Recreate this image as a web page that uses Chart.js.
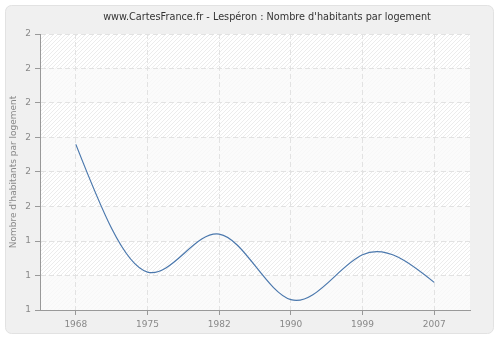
<!DOCTYPE html>
<html>
<head>
<meta charset="utf-8">
<script src="https://cdn.jsdelivr.net/npm/chart.js@4/dist/chart.umd.min.js"></script>
<style>
  html, body { margin: 0; padding: 0; background: #ffffff; }
  #wrap { width: 500px; height: 340px; }
</style>
</head>
<body>
<div id="wrap"><canvas id="canvas" width="500" height="340"></canvas></div>
<script>
'use strict';

// data
var years = ['1968', '1975', '1982', '1990', '1999', '2007'];
var habParLogement = [1.68, 1.31, 1.42, 1.23, 1.36, 1.28];
var yMin = 1.2;
var yMax = 2.0;
var yStep = 0.1;

var titleText = "www.CartesFrance.fr - Lespéron : Nombre d'habitants par logement";
var yTitle = "Nombre d'habitants par logement";

function makeHatch() {
    var c = document.createElement('canvas');
    c.width = 4; c.height = 4;
    var g = c.getContext('2d');
    g.fillStyle = '#ffffff';
    g.fillRect(0, 0, 4, 4);
    g.strokeStyle = '#ececec';
    g.lineWidth = 1;
    g.beginPath();
    g.moveTo(-1, 5); g.lineTo(5, -1);
    g.moveTo(-1, 1); g.lineTo(1, -1);
    g.moveTo(3, 5); g.lineTo(5, 3);
    g.stroke();
    return c;
}

// background: outer rounded box, hatched plot area, alternating bands
var backgroundPlugin = {
    id: 'background',
    beforeDraw: function (chart) {
        var ctx = chart.ctx;
        var a = chart.chartArea;
        ctx.save();
        ctx.fillStyle = '#ffffff';
        ctx.fillRect(0, 0, chart.width, chart.height);

        ctx.beginPath();
        ctx.roundRect(5.5, 5.5, 488, 328, 6);
        ctx.fillStyle = '#f0f0f0';
        ctx.fill();
        ctx.strokeStyle = '#e2e2e2';
        ctx.lineWidth = 1;
        ctx.stroke();

        ctx.fillStyle = ctx.createPattern(makeHatch(), 'repeat');
        ctx.fillRect(a.left, a.top, a.right - a.left, a.bottom - a.top);

        var y = chart.scales.y;
        ctx.fillStyle = 'rgba(250,250,250,0.8)';
        var ticks = y.ticks;
        for (var i = 0; i < ticks.length - 1; i++) {
            if ((ticks.length - 2 - i) % 2 === 1) {
                var y1 = y.getPixelForValue(ticks[i].value);
                var y2 = y.getPixelForValue(ticks[i + 1].value);
                ctx.fillRect(a.left, Math.min(y1, y2), a.right - a.left, Math.abs(y2 - y1));
            }
        }
        ctx.restore();
    },
    afterDraw: function (chart) {
        var ctx = chart.ctx;
        ctx.save();
        ctx.font = '9.7px "DejaVu Sans"';
        ctx.fillStyle = '#333333';
        ctx.textAlign = 'center';
        ctx.textBaseline = 'middle';
        ctx.fillText(titleText, 267, 17);
        ctx.restore();
    }
};

// smooth the line as a natural cubic spline through the points
var splinePlugin = {
    id: 'spline',
    afterDatasetsUpdate: function (chart) {
        chart.data.datasets.forEach(function (ds, di) {
            var meta = chart.getDatasetMeta(di);
            var pts = meta.data;
            var n = pts.length;
            if (n < 3) return;
            var h = pts[1].x - pts[0].x;
            var M = new Array(n).fill(0);
            var c = new Array(n).fill(0), d = new Array(n).fill(0);
            for (var i = 1; i < n - 1; i++) {
                var rhs = 6 * (pts[i + 1].y - 2 * pts[i].y + pts[i - 1].y) / (h * h);
                var denom = 4 - (i > 1 ? c[i - 1] : 0);
                c[i] = 1 / denom;
                d[i] = (rhs - (i > 1 ? d[i - 1] : 0)) / denom;
            }
            for (var k = n - 2; k >= 1; k--) {
                M[k] = d[k] - c[k] * M[k + 1];
            }
            var slopes = [];
            for (var j = 0; j < n - 1; j++) {
                slopes[j] = (pts[j + 1].y - pts[j].y) / h - h * (2 * M[j] + M[j + 1]) / 6;
            }
            slopes[n - 1] = (pts[n - 1].y - pts[n - 2].y) / h + h * (M[n - 2] + 2 * M[n - 1]) / 6;
            for (var p = 0; p < n; p++) {
                pts[p].cp1x = pts[p].x - h / 3;
                pts[p].cp1y = pts[p].y - slopes[p] * h / 3;
                pts[p].cp2x = pts[p].x + h / 3;
                pts[p].cp2y = pts[p].y + slopes[p] * h / 3;
            }
            meta.dataset._pointsUpdated = true;
            meta.dataset._path = undefined;
        });
    }
};

var myChart = null;
function createChart() {
    if (myChart != null) myChart.destroy();
    var ctx = document.getElementById('canvas').getContext('2d');
    myChart = new Chart(ctx, {
        type: 'line',
        data: {
            labels: years,
            datasets: [{
                data: habParLogement,
                borderColor: '#4b78ad',
                borderWidth: 1.2,
                pointRadius: 0,
                fill: false,
                tension: 0.4
            }]
        },
        options: {
            responsive: false,
            animation: false,
            devicePixelRatio: 1,
            layout: { padding: { left: 5, right: 30, top: 34, bottom: 0 } },
            plugins: {
                legend: { display: false },
                tooltip: { enabled: false },
                title: { display: false }
            },
            scales: {
                x: {
                    type: 'category',
                    offset: true,
                    grid: {
                        offset: false,
                        color: '#e2e2e2',
                        tickColor: '#999999',
                        tickLength: 5,
                        tickBorderDash: []
                    },
                    border: { color: '#999999', width: 1, dash: [5, 3] },
                    ticks: {
                        color: '#888888',
                        padding: 4,
                        maxRotation: 0,
                        font: { family: 'DejaVu Sans', size: 9 }
                    },
                    afterFit: function (scale) { scale.height = 30; }
                },
                y: {
                    min: yMin,
                    max: yMax,
                    grid: {
                        color: '#e2e2e2',
                        tickColor: '#999999',
                        tickLength: 5,
                        tickBorderDash: []
                    },
                    border: { color: '#999999', width: 1, dash: [5, 3] },
                    ticks: {
                        stepSize: yStep,
                        color: '#888888',
                        padding: 4,
                        font: { family: 'DejaVu Sans', size: 9 },
                        callback: function (value) { return Math.round(value).toString(); }
                    },
                    title: {
                        display: true,
                        text: yTitle,
                        color: '#888888',
                        font: { family: 'DejaVu Sans', size: 9 },
                        padding: { top: 3, bottom: 0 }
                    },
                    afterFit: function (scale) { scale.width = 35; }
                }
            }
        },
        plugins: [backgroundPlugin, splinePlugin]
    });
}

createChart();
</script>
</body>
</html>
